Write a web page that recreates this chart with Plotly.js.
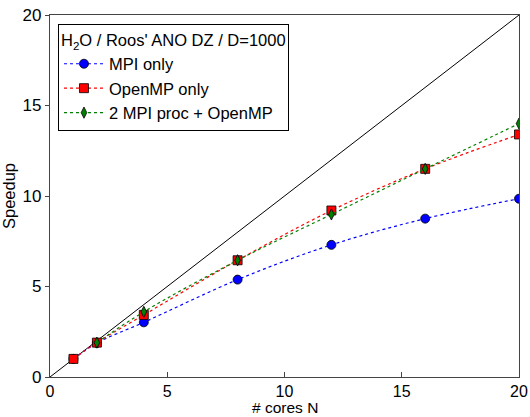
<!DOCTYPE html>
<html>
<head>
<meta charset="utf-8">
<script src="https://cdn.plot.ly/plotly-3.0.1.min.js"></script>
<style>html,body{margin:0;padding:0;background:#fff;}#chart{width:530px;height:417px;}</style>
</head>
<body>
<div id="chart"></div>
<script>
const idealX = [0, 20];
const idealY = [0, 20];
const mpiCores = [1, 2, 4, 8, 12, 16, 20];
const mpiSpeedup = [1.0, 1.88, 3.02, 5.38, 7.3, 8.75, 9.85];
const ompCores = [1, 2, 4, 8, 12, 16, 20];
const ompSpeedup = [1.0, 1.9, 3.43, 6.45, 9.2, 11.5, 13.4];
const hybCores = [2, 4, 8, 12, 16, 20];
const hybSpeedup = [1.9, 3.6, 6.45, 8.98, 11.5, 14.0];
const xTicks = [0, 5, 10, 15, 20];
const yTicks = [0, 5, 10, 15, 20];
const xTitle = '# cores N';
const yTitle = 'Speedup';

const traces = [
  {x: idealX, y: idealY, mode: 'lines', line: {color: 'black', width: 1}, showlegend: false, hoverinfo: 'skip'},
  {x: mpiCores, y: mpiSpeedup, name: 'MPI only', mode: 'lines+markers',
   line: {color: 'blue', dash: 'dot', width: 1.2, shape: 'spline'},
   marker: {symbol: 'circle', size: 9, color: 'blue', line: {color: 'black', width: 0.8}}},
  {x: ompCores, y: ompSpeedup, name: 'OpenMP only', mode: 'lines+markers',
   line: {color: 'red', dash: 'dot', width: 1.2, shape: 'spline'},
   marker: {symbol: 'square', size: 9, color: 'red', line: {color: 'black', width: 0.8}}},
  {x: hybCores, y: hybSpeedup, name: '2 MPI proc + OpenMP', mode: 'lines+markers',
   line: {color: 'green', dash: 'dot', width: 1.2, shape: 'spline'},
   marker: {symbol: 'diamond-tall', size: 8, color: 'green', line: {color: 'black', width: 0.8}}}
];

const layout = {
  width: 530, height: 417,
  margin: {l: 50, r: 11, t: 15, b: 40},
  paper_bgcolor: 'white', plot_bgcolor: 'white',
  font: {family: 'Liberation Sans, Arial, sans-serif', color: 'black', size: 16},
  showlegend: true,
  legend: {
    x: 0.017, y: 0.975, xanchor: 'left', yanchor: 'top',
    bgcolor: 'white', bordercolor: 'black', borderwidth: 1,
    font: {size: 16.5},
    title: {text: "H<sub>2</sub>O / Roos' ANO DZ / D=1000", font: {size: 16.5}},
    itemwidth: 40, tracegroupgap: 0
  },
  xaxis: {
    range: [0, 20], tickvals: xTicks, ticktext: xTicks.map(String),
    showgrid: false, zeroline: false, showline: true, linecolor: '#444', linewidth: 1.2,
    mirror: true, ticks: 'inside', ticklen: 5, tickcolor: '#444',
    tickfont: {size: 16}
  },
  yaxis: {
    range: [0, 20], tickvals: yTicks, ticktext: yTicks.map(String),
    showgrid: false, zeroline: false, showline: true, linecolor: '#444', linewidth: 1.2,
    mirror: true, ticks: 'outside', ticklen: 4, tickcolor: '#444',
    tickfont: {size: 17},
    title: {text: yTitle, font: {size: 16.5}, standoff: 6}
  },
  annotations: [
    {text: xTitle, xref: 'paper', yref: 'paper', x: 0.5, y: -0.0843, xanchor: 'center', yanchor: 'middle',
     showarrow: false, borderpad: 0, font: {size: 15.5}}
  ]
};

Plotly.newPlot('chart', traces, layout, {displayModeBar: false, staticPlot: true});
</script>
</body>
</html>
